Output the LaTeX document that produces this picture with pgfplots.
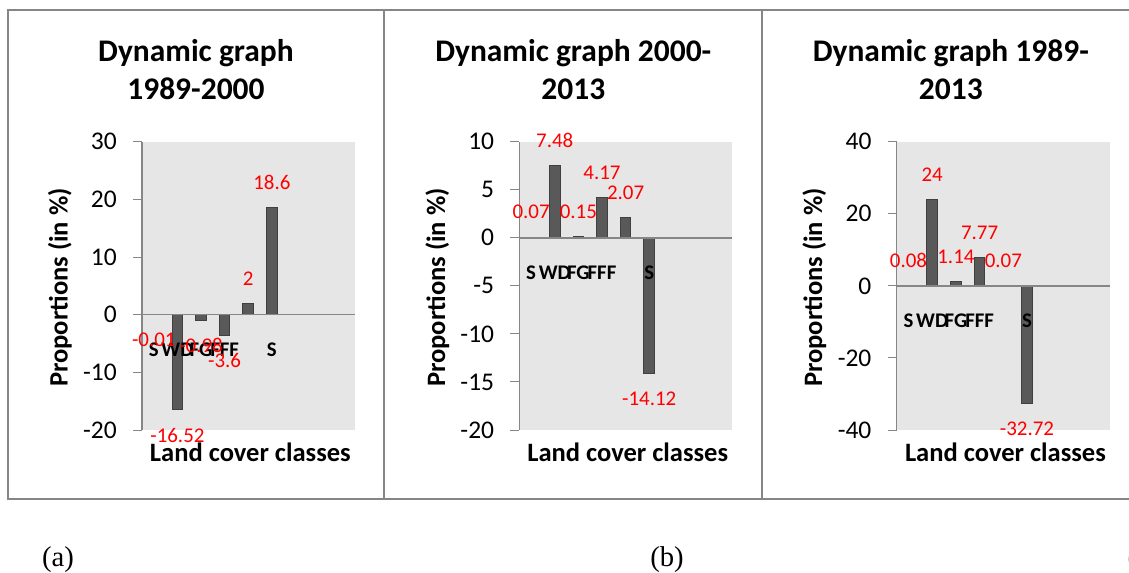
\documentclass[border=0pt]{standalone}
\usepackage{pgfplots}
\pgfplotsset{compat=1.18}
\usepackage{fontspec}
\setmainfont{Carlito}
\newfontfamily\timesfont{Liberation Serif}
\definecolor{bggray}{RGB}{230,230,230}
\definecolor{barfill}{RGB}{89,89,89}
\definecolor{baredge}{RGB}{64,64,64}
\definecolor{axgray}{RGB}{134,134,134}
\definecolor{framegray}{RGB}{134,134,134}
\pgfplotsset{
  panel/.style={
    scale only axis, width=159.4pt, height=216.2pt,
    anchor=south west,
    xmin=0.5, xmax=9.5,
    axis x line=middle, axis y line=left,
    axis line style={-, draw=axgray, line width=1.1pt},
    every inner x axis line/.append style={-},
    every outer y axis line/.append style={-},
    axis background/.style={fill=bggray},
    axis on top=true,
    ybar, bar width=7.9pt, bar shift=0pt,
    xtick={1,2,3,4,5,6},
    xticklabels={S,WD,FG,FFF,,S},
    x tick style={draw=none},
    xticklabel style={font=\bfseries\fontsize{15.6}{18}\selectfont, anchor=north, inner sep=0pt, yshift=-14.2pt},
    y tick style={draw=axgray, line width=0.75pt},
    tick align=outside, major tick length=6.75pt,
    yticklabel style={font=\fontsize{19.1}{22}\selectfont, anchor=east, inner sep=0pt, xshift=-12pt},
    xlabel={Land cover classes},
    ylabel={Proportions (in \%)},
    xlabel style={font=\bfseries\fontsize{19.9}{24}\selectfont, at={(axis description cs:0.51,-0.076)}, anchor=center},
    ylabel style={font=\bfseries\fontsize{19.9}{24}\selectfont, at={(axis description cs:-0.386,0.494)}, anchor=center, rotate=0},
    title style={font=\bfseries\fontsize{23.6}{28.5}\selectfont, at={(axis description cs:0.254,1.221)}, anchor=center, align=center},
    nodes near coords, point meta=explicit symbolic,
    every node near coord/.append style={font=\fontsize{15.7}{18}\selectfont, text=red, inner sep=13.2pt, anchor=south},
    clip=false,
  },
  barstyle/.style={fill=barfill, draw=baredge, line width=0.75pt},
  negstyle/.style={fill=barfill, draw=baredge, line width=0.75pt,
    every node near coord/.append style={anchor=north}},
}
\begin{document}
\begin{tikzpicture}
\useasboundingbox (0,0) rectangle (846.75pt,429pt);
% frames
\draw[framegray, line width=1.5pt] (6pt,54.75pt) rectangle (860pt,421.5pt);
\draw[framegray, line width=1.5pt] (288pt,54.75pt) -- (288pt,421.5pt);
\draw[framegray, line width=1.5pt] (571.5pt,54.75pt) -- (571.5pt,421.5pt);
% panel 1
\begin{axis}[panel, at={(106.5pt,106.5pt)},
  ymin=-20, ymax=30, ytick={-20,-10,0,10,20,30},
  yticklabels={-20,-10,0,10,20,30},
  title={Dynamic graph\\1989-2000}]
\addplot[negstyle] coordinates {(1,-0.01) [-0.01] (2,-16.52) [-16.52] (3,-0.98) [-0.98] (4,-3.6) [-3.6]};
\addplot[barstyle] coordinates {(5,2) [2] (6,18.6) [18.6]};
\end{axis}
% panel 2
\begin{axis}[panel, at={(389.5pt,106.5pt)},
  ymin=-20, ymax=10, ytick={-20,-15,-10,-5,0,5,10},
  yticklabels={-20,-15,-10,-5,0,5,10},
  title={Dynamic graph 2000-\\2013}]
\addplot[barstyle] coordinates {(1,0.07) [0.07] (2,7.48) [7.48] (3,0.15) [0.15] (4,4.17) [4.17] (5,2.07) [2.07]};
\addplot[negstyle] coordinates {(6,-14.12) [-14.12]};
\end{axis}
% panel 3
\begin{axis}[panel, at={(672.5pt,106.5pt)}, width=160pt,
  ymin=-40, ymax=40, ytick={-40,-20,0,20,40},
  yticklabels={-40,-20,0,20,40},
  title={Dynamic graph 1989-\\2013}]
\addplot[barstyle] coordinates {(1,0.08) [0.08] (2,24) [24] (3,1.14) [1.14] (4,7.77) [7.77] (5,0.07) [0.07]};
\addplot[negstyle] coordinates {(6,-32.72) [-32.72]};
\end{axis}
% sub-labels
\node[font=\timesfont\fontsize{21.5}{24}\selectfont] at (43.5pt,9pt) {(a)};
\node[font=\timesfont\fontsize{21.5}{24}\selectfont] at (500.25pt,9pt) {(b)};
\node[font=\timesfont\fontsize{21.5}{24}\selectfont, anchor=west, inner sep=0pt] at (845.6pt,9pt) {(c)};
\end{tikzpicture}
\end{document}
